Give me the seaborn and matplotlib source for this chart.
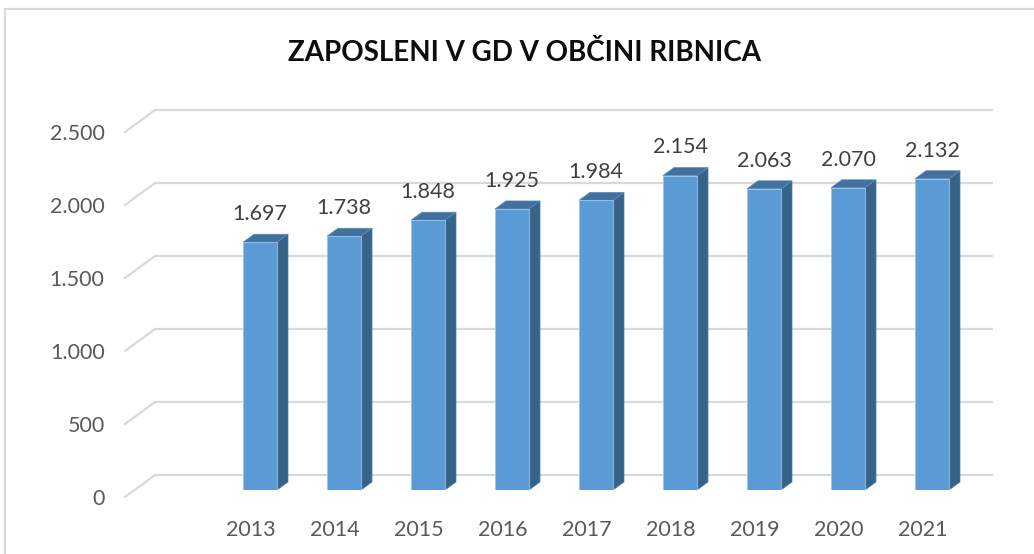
import matplotlib
matplotlib.use("Agg")
import matplotlib.pyplot as plt
import matplotlib.transforms as mtransforms
from matplotlib.patches import Polygon, Rectangle
import seaborn as sns
import pandas as pd

years = ["2013", "2014", "2015", "2016", "2017", "2018", "2019", "2020", "2021"]
employees = [1697, 1738, 1848, 1925, 1984, 2154, 2063, 2070, 2132]
value_labels = ["1.697", "1.738", "1.848", "1.925", "1.984", "2.154", "2.063", "2.070", "2.132"]
y_ticks = [0, 500, 1000, 1500, 2000, 2500]
y_tick_labels = ["0", "500", "1.000", "1.500", "2.000", "2.500"]
title = "ZAPOSLENI V GD V OBČINI RIBNICA"

df = pd.DataFrame({"leto": years, "zaposleni": employees})

sns.set_theme(style="white")
plt.rcParams["font.family"] = ["Lato", "DejaVu Sans"]

DPI = 100
W, H = 1034, 554
fig = plt.figure(figsize=(W / DPI, H / DPI), dpi=DPI)
fig.patch.set_facecolor("white")

# chart-area border (extends beyond the canvas, as in the reference)
fig.patches.append(Rectangle((5 / W, -0.1), 1.2, (H - 9) / H + 0.1, transform=fig.transFigure,
                             fill=False, edgecolor="#D9D9D9", linewidth=1.6, zorder=0))

ax_left, ax_right = 134.5, 972.5
ax_bottom_px, ax_top_px = 490, 125
ax = fig.add_axes([ax_left / W, (H - ax_bottom_px) / H,
                   (ax_right - ax_left) / W, (ax_bottom_px - ax_top_px) / H])
ax.set_facecolor("none")

unit = 84.0
x0 = -(260 - ax_left) / unit
x1 = (ax_right - 260) / unit
ax.set_xlim(x0, x1)
ax.set_ylim(0, 2500)

def off(dx, dy):
    return ax.transData + mtransforms.ScaledTranslation(dx / DPI, dy / DPI, fig.dpi_scale_trans)

front = (-9.5, -7.0)
back = (20.5, 15.0)
grid_col = "#D9D9D9"

inv = ax.transData.inverted()
# back wall gridlines and left floor/wall diagonals
for v in y_ticks:
    ax.plot([x0, x1], [v, v], color=grid_col, lw=1.6,
            transform=off(*back), clip_on=False, zorder=0, solid_capstyle="butt")
    p = ax.transData.transform((x0, v))
    a = inv.transform((p[0] + front[0], p[1] + front[1]))
    b = inv.transform((p[0] + back[0], p[1] + back[1]))
    ax.plot([a[0], b[0]], [a[1], b[1]], color=grid_col, lw=1.6, clip_on=False, zorder=0)

# bars (front faces)
sns.barplot(data=df, x="leto", y="zaposleni", ax=ax, color="#5B9BD5", width=0.405,
            saturation=1, edgecolor="#9DC3E6", linewidth=0.6, zorder=3)
ax.set_xlim(x0, x1)
ax.set_ylim(0, 2500)

# 3D side and top faces built from the bar geometry
depth_dx, depth_dy = 11.0, 8.0
inv = ax.transData.inverted()
for bar in ax.patches:
    bx, by = bar.get_x(), bar.get_y()
    bw, bh = bar.get_width(), bar.get_height()
    pts = ax.transData.transform([(bx, by), (bx + bw, by), (bx + bw, by + bh), (bx, by + bh)])
    bl, br, tr_, tl = pts
    side = [br, br + (depth_dx, depth_dy), tr_ + (depth_dx, depth_dy), tr_]
    top = [tl, tr_, tr_ + (depth_dx, depth_dy), tl + (depth_dx, depth_dy)]
    ax.add_patch(Polygon(inv.transform(side), closed=True, facecolor="#376389",
                         edgecolor="#4A7FB0", linewidth=0.5, zorder=2, clip_on=False))
    ax.add_patch(Polygon(inv.transform(top), closed=True, facecolor="#41719C",
                         edgecolor="#5B8EC0", linewidth=0.5, zorder=2, clip_on=False))

# value labels
for i, (v, lab) in enumerate(zip(employees, value_labels)):
    ax.annotate(lab, (i, v), xytext=(0, 13), textcoords="offset points",
                ha="center", va="bottom", fontsize=15.5, color="#404040", clip_on=False)

# axes styling
for s in ax.spines.values():
    s.set_visible(False)
ax.set_xlabel("")
ax.set_ylabel("")
ax.set_yticks(y_ticks)
ax.set_yticklabels(y_tick_labels)
ax.set_xticks(range(len(years)))
ax.set_xticklabels(years)
ax.tick_params(axis="y", length=0, pad=21.5, labelsize=15.5, labelcolor="#595959")
ax.tick_params(axis="x", length=0, pad=21.5, labelsize=15.5, labelcolor="#595959")
for lab in ax.get_yticklabels():
    lab.set_transform(lab.get_transform() + mtransforms.ScaledTranslation(0, -7 / DPI, fig.dpi_scale_trans))
for lab in ax.get_xticklabels():
    lab.set_transform(lab.get_transform() + mtransforms.ScaledTranslation(-9.5 / DPI, 0, fig.dpi_scale_trans))

fig.text(524 / W, 1 - 53 / H, title, ha="center", va="center", fontsize=20,
         fontweight="bold", color="#0D0D0D")

fig.savefig("out.png", dpi=DPI, facecolor="white")
